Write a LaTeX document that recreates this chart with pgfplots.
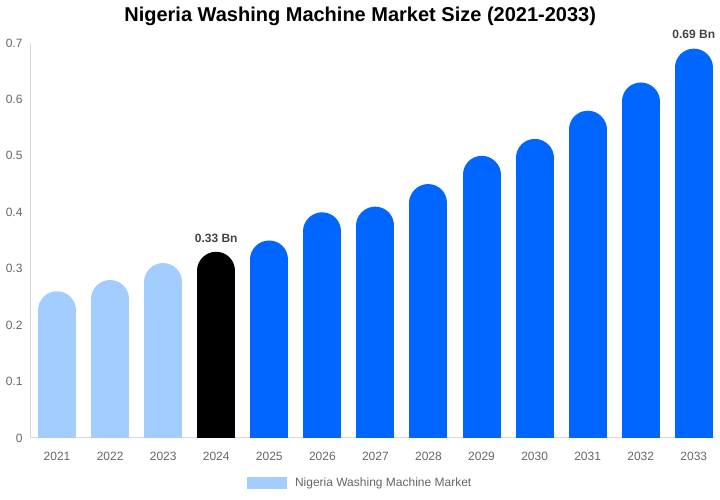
\documentclass[border=0pt]{standalone}
\usepackage{pgfplots}
\pgfplotsset{compat=1.18}
\usepackage{fontspec}
\setmainfont{Liberation Sans}

\definecolor{lightbar}{HTML}{A3CDFE}
\definecolor{mainbar}{HTML}{0066FF}
\definecolor{tickgray}{HTML}{666666}
\definecolor{axisgray}{HTML}{D9D9D9}
\definecolor{labelgray}{HTML}{444444}

\tikzset{
  rbar/.style={ycomb, line width=38pt, line cap=round, yshift=-19pt, mark=none},
  vallabel/.style={anchor=south, yshift=6pt, text=labelgray, font=\bfseries\fontsize{12}{14}\selectfont},
}

\begin{document}
\begin{tikzpicture}
\useasboundingbox (-30pt,-62pt) rectangle (690pt,438pt);
\begin{axis}[
  scale only axis,
  width=685pt, height=395pt,
  xmin=-0.51, xmax=12.4,
  ymin=0, ymax=0.7,
  xtick={0,...,12},
  xticklabels={2021,2022,2023,2024,2025,2026,2027,2028,2029,2030,2031,2032,2033},
  ytick={0,0.1,...,0.7},
  yticklabel style={/pgf/number format/fixed, /pgf/number format/precision=1},
  /pgf/number format/assume math mode=true,
  tick style={draw=none},
  axis x line*=bottom,
  axis y line*=left,
  axis line style={draw=axisgray, line width=1pt},
  x axis line style={-}, y axis line style={-},
  tick label style={font=\fontsize{12}{14}\selectfont, text=tickgray},
  xticklabel style={yshift=-11pt},
  yticklabel style={xshift=-4pt},
  clip mode=global,
  legend style={at={(0.482,0)}, anchor=center, yshift=-45pt, draw=none,
    font=\fontsize{12}{14}\selectfont, text=tickgray},
  legend image code/.code={
    \fill[lightbar, draw=none, yshift=19pt] (0pt,-6pt) rectangle (40pt,6pt);
    \path[draw=none, yshift=19pt] (0pt,0pt) -- (46pt,0pt);
  },
  title={Nigeria Washing Machine Market Size (2021-2033)},
  title style={at={(0.482,1)}, anchor=base, yshift=15pt, font=\bfseries\fontsize{20}{24}\selectfont},
  after end axis/.code={
    \node[vallabel] at (axis cs:3,0.33) {0.33 Bn};
    \node[vallabel] at (axis cs:12,0.69) {0.69 Bn};
  },
]
\addplot[rbar, color=lightbar] coordinates {(0,0.26) (1,0.28) (2,0.31)};
\addlegendentry{Nigeria Washing Machine Market}
\addplot[rbar, color=black, forget plot] coordinates {(3,0.33)};
\addplot[rbar, color=mainbar, forget plot] coordinates {(4,0.35) (5,0.40) (6,0.41) (7,0.45) (8,0.50) (9,0.53) (10,0.58) (11,0.63) (12,0.69)};
\end{axis}
\end{tikzpicture}
\end{document}
